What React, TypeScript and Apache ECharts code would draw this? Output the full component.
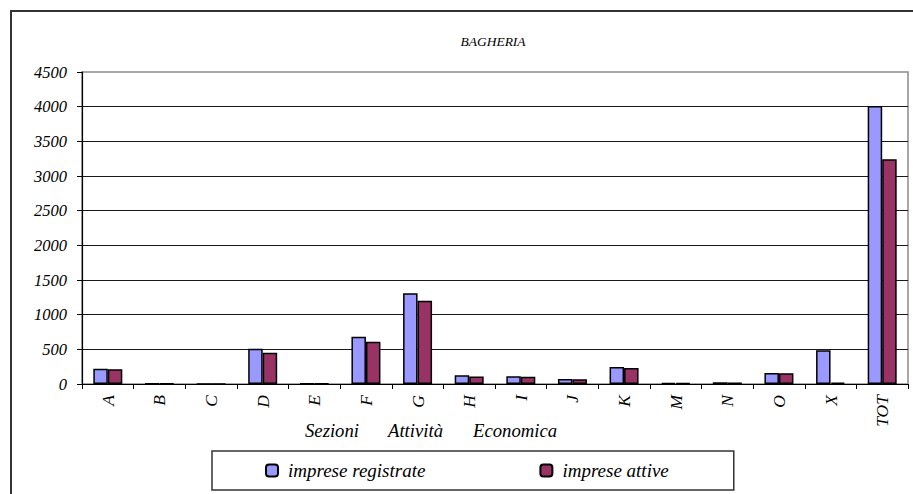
import React, { useEffect, useRef } from "react";
import * as echarts from "echarts";

const categories = ["A", "B", "C", "D", "E", "F", "G", "H", "I", "J", "K", "M", "N", "O", "X", "TOT"];
const registrate = [220, 5, 3, 510, 5, 680, 1310, 125, 112, 72, 245, 15, 25, 160, 486, 4010];
const attive = [212, 5, 1, 450, 4, 610, 1200, 108, 105, 68, 232, 12, 22, 154, 20, 3240];
const yTicks = [0, 500, 1000, 1500, 2000, 2500, 3000, 3500, 4000, 4500];
const axisWords = [
  { text: "Sezioni", x: 305 },
  { text: "Attività", x: 388 },
  { text: "Economica", x: 473 },
];

const FONT = "Liberation Serif";

export default function App() {
  const ref = useRef<HTMLDivElement>(null);
  useEffect(() => {
    if (!ref.current) return;
    const chart = echarts.init(ref.current, undefined, { renderer: "svg" });
    chart.setOption({
      animation: false,
      backgroundColor: "#fff",
      textStyle: { fontFamily: FONT },
      grid: {
        left: 82,
        top: 72,
        width: 826,
        height: 312,
        show: true,
        borderColor: "#8c8c8c",
        borderWidth: 1.5,
        containLabel: false,
      },
      xAxis: {
        type: "category",
        data: categories,
        boundaryGap: true,
        axisLine: { lineStyle: { color: "#000", width: 1.2 } },
        axisTick: { show: true, alignWithLabel: false, length: 5, lineStyle: { color: "#000" } },
        axisLabel: {
          rotate: 90,
          margin: 11,
          interval: 0,
          fontSize: 17.5,
          fontStyle: "italic",
          fontFamily: FONT,
          color: "#000",
        },
      },
      yAxis: {
        type: "value",
        min: 0,
        max: yTicks[yTicks.length - 1],
        interval: 500,
        axisLine: { show: true, lineStyle: { color: "#000", width: 1.2 } },
        axisTick: { show: true, length: 5, lineStyle: { color: "#000" } },
        axisLabel: {
          margin: 15,
          fontSize: 16.5,
          fontStyle: "italic",
          fontFamily: FONT,
          color: "#000",
          formatter: (v: number) => String(v),
        },
        splitLine: { show: true, showMaxLine: false, lineStyle: { color: "#1a1a1a", width: 1 } },
      },
      legend: {
        left: 212,
        top: 451,
        padding: [10, 65, 10, 53],
        borderColor: "#333",
        borderWidth: 1.5,
        itemWidth: 12,
        itemHeight: 12,
        itemGap: 114,
        textStyle: {
          fontSize: 19,
          lineHeight: 19,
          fontStyle: "italic",
          fontFamily: FONT,
          color: "#000",
          padding: [0, 0, 0, 5],
        },
        data: ["imprese registrate", "imprese attive"],
      },
      series: [
        {
          name: "imprese registrate",
          type: "bar",
          data: registrate,
          barWidth: 14.5,
          barGap: "0%",
          itemStyle: { color: "#9999FF", borderColor: "#000", borderWidth: 1.5 },
        },
        {
          name: "imprese attive",
          type: "bar",
          data: attive,
          barWidth: 14.5,
          barGap: "0%",
          itemStyle: { color: "#993366", borderColor: "#000", borderWidth: 1.5 },
        },
      ],
      graphic: [
        {
          type: "rect",
          shape: { x: 11, y: 11, width: 920, height: 500 },
          style: { fill: "none", stroke: "#333", lineWidth: 2 },
          silent: true,
        },
        {
          type: "text",
          x: 493,
          y: 41,
          style: {
            text: "BAGHERIA",
            fontSize: 13.5,
            fontStyle: "italic",
            fontFamily: FONT,
            fill: "#000",
            align: "center",
            verticalAlign: "middle",
          },
        },
        ...axisWords.map((w) => ({
          type: "text",
          x: w.x,
          y: 430,
          style: {
            text: w.text,
            fontSize: 18.7,
            fontStyle: "italic",
            fontFamily: FONT,
            fill: "#000",
            align: "left",
            verticalAlign: "middle",
          },
        })),
      ],
    });
    return () => chart.dispose();
  }, []);
  return (
    <div
      ref={ref}
      style={{ position: "absolute", left: 0, top: 0, width: 913, height: 494 }}
    />
  );
}
